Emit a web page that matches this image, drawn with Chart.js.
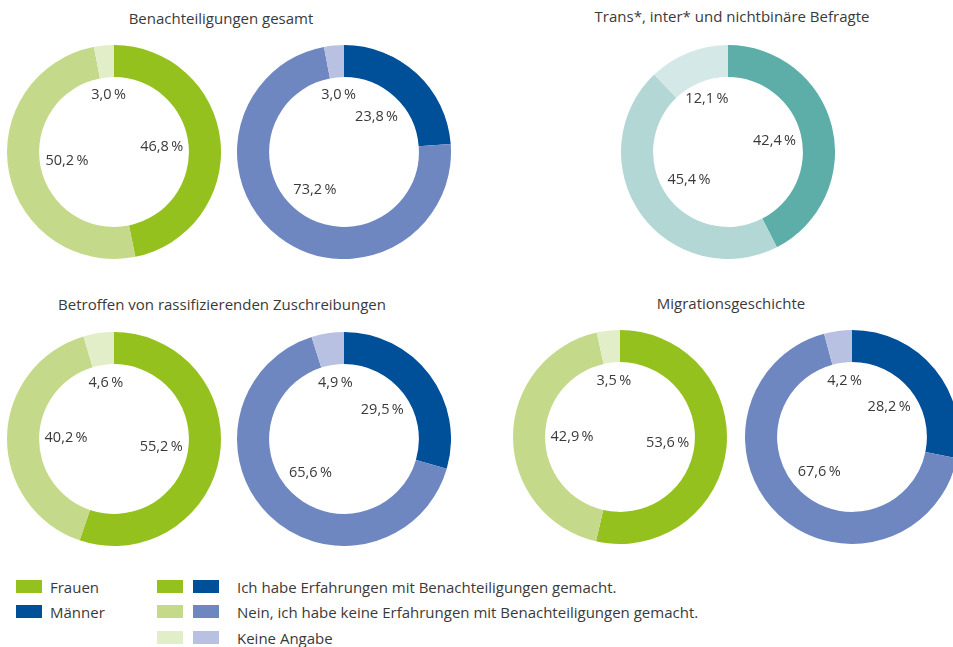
<!DOCTYPE html>
<html lang="de">
<head>
<meta charset="utf-8">
<script src="https://cdn.jsdelivr.net/npm/chart.js@4"></script>
<style>
  html, body { margin: 0; padding: 0; background: #fff; overflow: hidden; }
  body { width: 953px; height: 647px; position: relative; font-family: "Open Sans", sans-serif; color: #3a3a3a; }
  .title { position: absolute; font-size: 15px; white-space: nowrap; transform: translate(-50%, -50%); }
  .donut { position: absolute; }
  .legend { position: absolute; font-size: 15px; white-space: nowrap; }
  .sw { position: absolute; width: 26px; height: 13px; }
  .lt { position: absolute; transform: translateY(-50%); }
</style>
</head>
<body>
<div class="title" style="left:221px; top:18px;">Benachteiligungen gesamt</div>
<div class="title" style="left:732px; top:16px;">Trans*, inter* und nichtbinäre Befragte</div>
<div class="title" style="left:222px; top:304px;">Betroffen von rassifizierenden Zuschreibungen</div>
<div class="title" style="left:731px; top:303px;">Migrationsgeschichte</div>

<div id="legend"></div>

<script>
// Kategorien
const categories = [
    'Ich habe Erfahrungen mit Benachteiligungen gemacht.',
    'Nein, ich habe keine Erfahrungen mit Benachteiligungen gemacht.',
    'Keine Angabe'
];

// Werte in Prozent
const frauenGesamt = [46.8, 50.2, 3.0];
const maennerGesamt = [23.8, 73.2, 3.0];
const transGesamt = [42.4, 45.4, 12.1];
const frauenRass = [55.2, 40.2, 4.6];
const maennerRass = [29.5, 65.6, 4.9];
const frauenMig = [53.6, 42.9, 3.5];
const maennerMig = [28.2, 67.6, 4.2];

// Farben
const gruen = ['#95c11f', '#c5d98a', '#e2eec7'];
const blau = ['#004f99', '#6f87c0', '#b8c1e2'];
const tuerkis = ['#5dada8', '#b3d7d5', '#d4e8e7'];

const R = 107;

const charts = [
    { data: frauenGesamt, colors: gruen, cx: 113.5, cy: 151.5 },
    { data: maennerGesamt, colors: blau, cx: 343.5, cy: 151.5 },
    { data: transGesamt, colors: tuerkis, cx: 728, cy: 151.5 },
    { data: frauenRass, colors: gruen, cx: 113.5, cy: 439 },
    { data: maennerRass, colors: blau, cx: 343.5, cy: 439 },
    { data: frauenMig, colors: gruen, cx: 620, cy: 437 },
    { data: maennerMig, colors: blau, cx: 851.5, cy: 437 }
];

function fmt(v) {
    return v.toFixed(1).replace('.', ',') + '\u2009%';
}

// Beschriftungen im Inneren des Rings
const innerLabels = {
    id: 'innerLabels',
    afterDatasetsDraw(chart) {
        const ctx = chart.ctx;
        const meta = chart.getDatasetMeta(0);
        const values = chart.data.datasets[0].data;
        ctx.save();
        ctx.font = '14.5px "Open Sans"';
        ctx.fillStyle = '#3a3a3a';
        ctx.textAlign = 'center';
        ctx.textBaseline = 'middle';
        meta.data.forEach((arc, i) => {
            const p = arc.getProps(['x', 'y', 'startAngle', 'endAngle', 'innerRadius']);
            const mid = (p.startAngle + p.endAngle) / 2;
            // kleine Segmente etwas weiter außen
            const r = p.innerRadius * (values[i] < 15 ? 0.76 : 0.64);
            ctx.fillText(fmt(values[i]), p.x + Math.cos(mid) * r, p.y + Math.sin(mid) * r);
        });
        ctx.restore();
    }
};

charts.forEach((c) => {
    const box = document.createElement('div');
    box.className = 'donut';
    box.style.left = (c.cx - R) + 'px';
    box.style.top = (c.cy - R) + 'px';
    box.style.width = (2 * R) + 'px';
    box.style.height = (2 * R) + 'px';
    const cv = document.createElement('canvas');
    box.appendChild(cv);
    document.body.appendChild(box);

    new Chart(cv.getContext('2d'), {
        type: 'doughnut',
        data: {
            labels: categories,
            datasets: [{
                data: c.data,
                backgroundColor: c.colors,
                borderWidth: 0,
                hoverOffset: 0
            }]
        },
        options: {
            responsive: true,
            maintainAspectRatio: false,
            animation: false,
            cutout: '70%',
            layout: { padding: 0 },
            plugins: {
                legend: { display: false },
                tooltip: { enabled: false }
            }
        },
        plugins: [innerLabels]
    });
});

// Legende
const legend = document.getElementById('legend');
function addSwatch(x, y, color) {
    const s = document.createElement('div');
    s.className = 'sw';
    s.style.left = x + 'px';
    s.style.top = y + 'px';
    s.style.background = color;
    legend.appendChild(s);
}
function addText(x, y, txt) {
    const t = document.createElement('div');
    t.className = 'legend lt';
    t.style.left = x + 'px';
    t.style.top = y + 'px';
    t.textContent = txt;
    legend.appendChild(t);
}
const rowsY = [580, 605, 631];
addSwatch(16, rowsY[0], gruen[0]);
addText(50, rowsY[0] + 6.5, 'Frauen');
addSwatch(16, rowsY[1], blau[0]);
addText(50, rowsY[1] + 6.5, 'Männer');
categories.forEach((cat, i) => {
    addSwatch(157, rowsY[i], gruen[i]);
    addSwatch(193, rowsY[i], blau[i]);
    addText(237, rowsY[i] + 6.5, cat);
});
</script>
</body>
</html>
